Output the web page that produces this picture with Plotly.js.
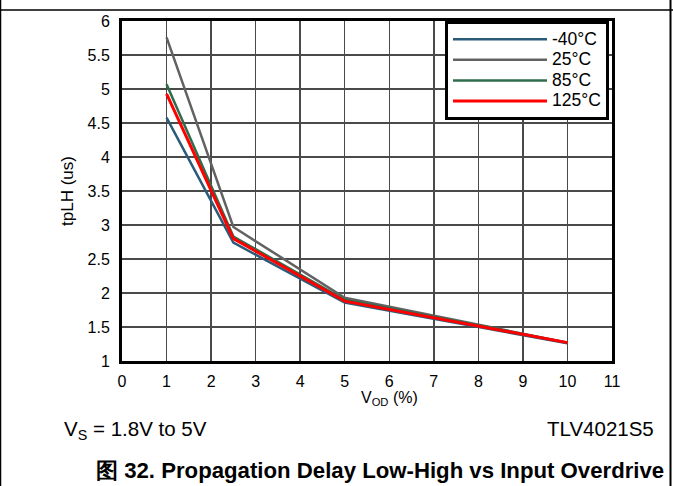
<!DOCTYPE html>
<html>
<head>
<meta charset="utf-8">
<script src="https://cdn.plot.ly/plotly-3.0.1.min.js"></script>
<style>html,body{margin:0;padding:0;background:#fff;}#chart{width:673px;height:486px;}</style>
</head>
<body>
<div id="chart"></div>
<script>
// Data
const vod = [1, 2.5, 5, 10];
const tpLH_m40 = [4.58, 2.74, 1.86, 1.26];
const tpLH_25 = [5.76, 2.97, 1.93, 1.27];
const tpLH_85 = [5.07, 2.83, 1.90, 1.27];
const tpLH_125 = [4.93, 2.80, 1.88, 1.27];
const seriesNames = ['-40°C', '25°C', '85°C', '125°C'];

const FONT = '"Liberation Sans", Arial, sans-serif';
const colors = ['#2b5b78', '#626262', '#2f6e4d', '#ff0000'];
const widths = [2.5, 2.5, 2.5, 3];
const ys = [tpLH_m40, tpLH_25, tpLH_85, tpLH_125];

const traces = ys.map((y, i) => ({
  x: vod, y: y, type: 'scatter', mode: 'lines',
  name: '<span style="font-size:17.5px">' + seriesNames[i] + '</span>',
  line: {color: colors[i], width: widths[i]}
}));

const L = 122, R = 612, T = 21, B = 361, W = 673, H = 486;
const px = v => (v - L) / (R - L);
const py = v => (B - v) / (B - T);

const layout = {
  width: W, height: H,
  margin: {l: L, r: W - R, t: T, b: H - B, pad: 0},
  paper_bgcolor: '#fff', plot_bgcolor: '#fff',
  font: {family: FONT, size: 16, color: '#000'},
  showlegend: true,
  legend: {
    x: px(445), y: 1, xanchor: 'left', yanchor: 'top',
    bgcolor: '#fff', bordercolor: '#000', borderwidth: 3,
    font: {family: FONT, size: 13.5, color: '#000'},
    itemwidth: 94, tracegroupgap: 0, entrywidth: 55
  },
  xaxis: {
    range: [0, 11], dtick: 1, tick0: 0,
    showgrid: true, gridcolor: '#4a4a4a', gridwidth: 1.5,
    showline: true, mirror: true, linecolor: '#000', linewidth: 3,
    zeroline: false, ticks: '', ticklabelstandoff: 4,
    tickfont: {family: FONT, size: 16}
  },
  yaxis: {
    range: [1, 6], dtick: 0.5, tick0: 1,
    showgrid: true, gridcolor: '#4a4a4a', gridwidth: 1.5,
    showline: true, mirror: true, linecolor: '#000', linewidth: 3,
    zeroline: false, ticks: '', ticklabelstandoff: 6,
    tickfont: {family: FONT, size: 16},
    title: {text: 'tpLH (us)', font: {family: FONT, size: 17}, standoff: 10}
  },
  shapes: [
    {type: 'line', xref: 'paper', yref: 'paper', x0: px(0), x1: px(673), y0: py(10), y1: py(10), line: {color: '#000', width: 1.5}},
    {type: 'line', xref: 'paper', yref: 'paper', x0: px(670.5), x1: px(670.5), y0: py(0), y1: py(486), line: {color: '#000', width: 2}},
    {type: 'line', xref: 'paper', yref: 'paper', x0: px(0.5), x1: px(0.5), y0: py(0), y1: py(486), line: {color: '#000', width: 1.5}}
  ],
  annotations: [
    {xref: 'paper', yref: 'paper', x: px(389), y: py(398), xanchor: 'center', yanchor: 'middle', showarrow: false,
     text: 'V<sub>OD</sub> (%)', font: {family: FONT, size: 16}},
    {xref: 'paper', yref: 'paper', x: px(62), y: py(430), xanchor: 'left', yanchor: 'middle', showarrow: false,
     text: 'V<sub>S</sub> = 1.8V to 5V', font: {family: FONT, size: 20.5}},
    {xref: 'paper', yref: 'paper', x: px(656), y: py(428), xanchor: 'right', yanchor: 'middle', showarrow: false,
     text: 'TLV4021S5', font: {family: FONT, size: 20.5}},
    {xref: 'paper', yref: 'paper', x: px(379.5), y: py(470), xanchor: 'center', yanchor: 'middle', showarrow: false,
     text: '<b>图 32. Propagation Delay Low-High vs Input Overdrive</b>', font: {family: FONT, size: 22.2}}
  ]
};

Plotly.newPlot('chart', traces, layout, {staticPlot: true, displayModeBar: false});
</script>
</body>
</html>
